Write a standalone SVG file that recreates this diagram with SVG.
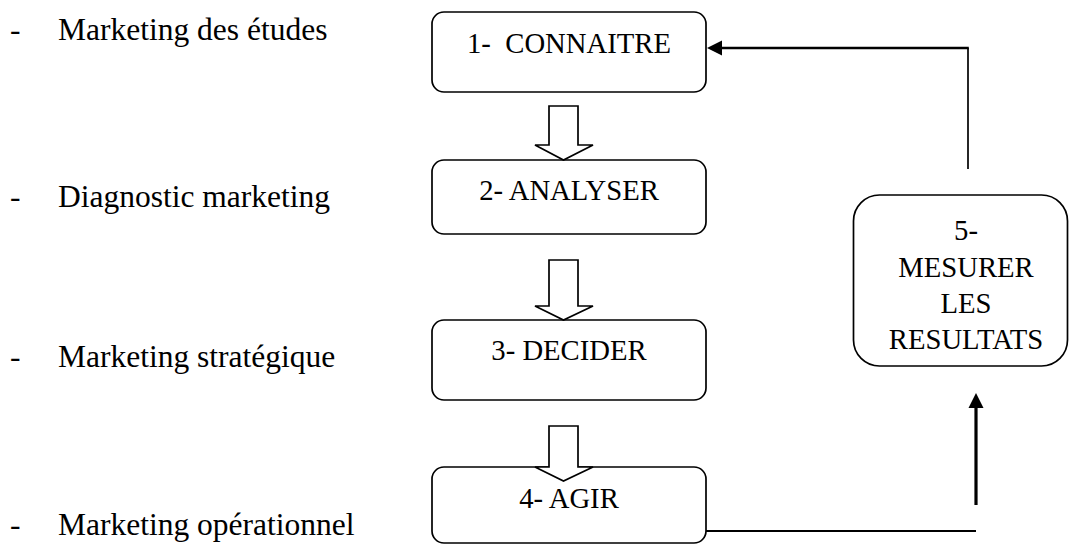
<svg xmlns="http://www.w3.org/2000/svg" width="1071" height="545" viewBox="0 0 1071 545">
  <style>
    .box { fill: #ffffff; stroke: #000000; stroke-width: 1.7; }
    .hollow { fill: #ffffff; stroke: #000000; stroke-width: 1.7; stroke-linejoin: miter; }
    .label { font-family: 'Liberation Serif', 'Times New Roman', Times, 'DejaVu Serif', serif; font-size: 31.5px; fill: #000000; }
    .step { font-family: 'Liberation Serif', 'Times New Roman', Times, 'DejaVu Serif', serif; font-size: 28.7px; fill: #000000; text-anchor: middle; }
    .link { fill: none; stroke: #000000; }
  </style>

  <rect width="1071" height="545" fill="#ffffff"/>

  <!-- Left-hand list of marketing fields -->
  <g id="fields">
    <text class="label" x="10" y="40">-</text>
    <text class="label" x="58" y="40">Marketing des études</text>
    <text class="label" x="10" y="207">-</text>
    <text class="label" x="58" y="207">Diagnostic marketing</text>
    <text class="label" x="10" y="367">-</text>
    <text class="label" x="58" y="367">Marketing stratégique</text>
    <text class="label" x="10" y="535">-</text>
    <text class="label" x="58" y="535">Marketing opérationnel</text>
  </g>

  <!-- Connectors -->
  <g id="connectors">
    <!-- feedback from step 5 back to step 1 -->
    <line class="link" x1="968" y1="169" x2="968" y2="48" stroke-width="1.7"/>
    <line class="link" x1="968.8" y1="48" x2="720" y2="48" stroke-width="2.7"/>
    <path d="M707,48 L722,40.5 L722,55.5 Z" fill="#000000"/>
    <!-- step 4 towards step 5 -->
    <line class="link" x1="706" y1="531" x2="976" y2="531" stroke-width="2"/>
    <line class="link" x1="976" y1="505" x2="976" y2="406" stroke-width="3.2"/>
    <path d="M976,393 L983.5,408 L968.5,408 Z" fill="#000000"/>
  </g>

  <!-- Process steps -->
  <g id="step1">
    <rect class="box" x="432" y="12" width="274" height="80" rx="12"/>
    <text class="step" x="569" y="53" xml:space="preserve">1-  CONNAITRE</text>
  </g>
  <g id="step2">
    <rect class="box" x="432" y="160" width="274" height="74" rx="12"/>
    <text class="step" x="569" y="200">2- ANALYSER</text>
  </g>
  <g id="step3">
    <rect class="box" x="432" y="320" width="274" height="80" rx="12"/>
    <text class="step" x="569" y="360">3- DECIDER</text>
  </g>
  <g id="step4">
    <rect class="box" x="432" y="467" width="274" height="76" rx="12"/>
    <text class="step" x="569" y="508">4- AGIR</text>
  </g>
  <g id="step5">
    <rect class="box" x="853.5" y="195" width="214" height="171" rx="26"/>
    <text class="step" x="966" y="240">5-</text>
    <text class="step" x="966" y="277">MESURER</text>
    <text class="step" x="966" y="313">LES</text>
    <text class="step" x="966" y="349">RESULTATS</text>
  </g>

  <!-- Block arrows between consecutive steps -->
  <g id="flow">
    <path class="hollow" d="M549,106 L578,106 L578,145 L593,145 L563.5,160 L535,145 L549,145 Z"/>
    <path class="hollow" d="M549,260 L578,260 L578,306 L593,306 L563.5,320 L535,306 L549,306 Z"/>
    <path class="hollow" d="M549,426 L578,426 L578,467 L593,467 L563.5,481 L535,467 L549,467 Z"/>
  </g>
</svg>
